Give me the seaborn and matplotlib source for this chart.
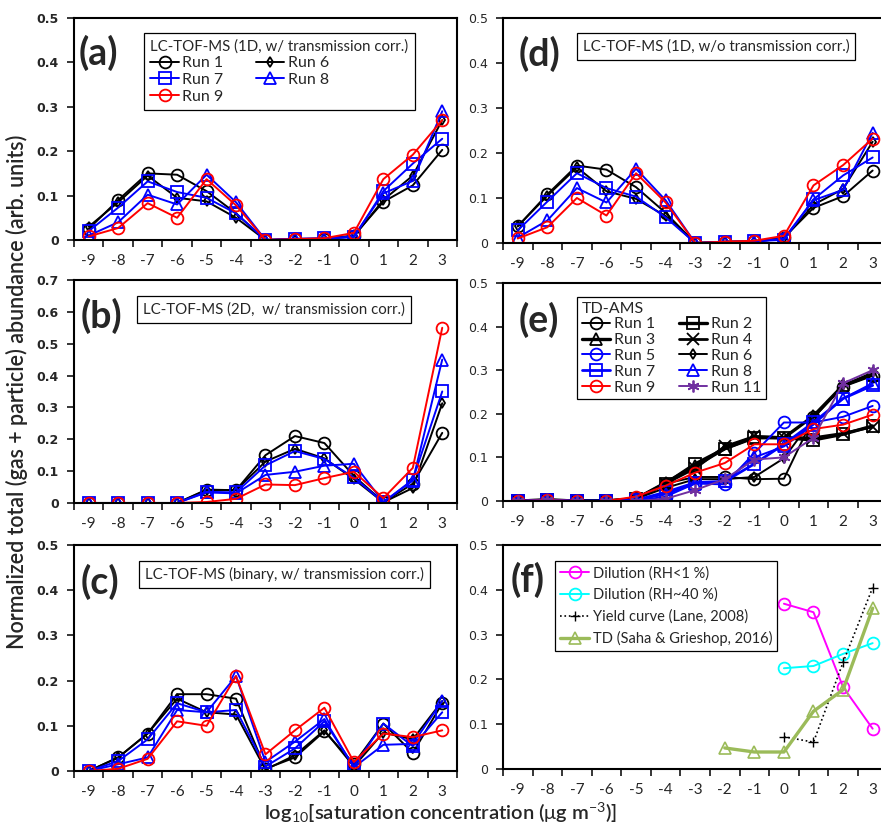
import matplotlib
matplotlib.use('Agg')
import matplotlib.pyplot as plt
import seaborn as sns
import pandas as pd

sns.set_style('ticks')
plt.rcParams['font.family'] = ['Lato', 'DejaVu Sans']
plt.rcParams['mathtext.fontset'] = 'custom'
plt.rcParams['mathtext.rm'] = 'Lato'
plt.rcParams['mathtext.it'] = 'Lato'
plt.rcParams['mathtext.bf'] = 'Lato:bold'

# log10 saturation concentration bins
logc = [-9, -8, -7, -6, -5, -4, -3, -2, -1, 0, 1, 2, 3]
xtick_labels = [str(v) for v in logc]

# (a) LC-TOF-MS 1D, with transmission correction
a_run1 = [0.025, 0.09, 0.15, 0.147, 0.11, 0.06, 0.0, 0.002, 0.003, 0.01, 0.086, 0.123, 0.203]
a_run6 = [0.03, 0.085, 0.145, 0.095, 0.087, 0.05, 0.0, 0.001, 0.002, 0.008, 0.09, 0.145, 0.27]
a_run7 = [0.02, 0.073, 0.132, 0.108, 0.095, 0.06, 0.0, 0.003, 0.004, 0.006, 0.11, 0.172, 0.228]
a_run8 = [0.01, 0.04, 0.102, 0.08, 0.147, 0.085, 0.0, 0.002, 0.003, 0.008, 0.105, 0.133, 0.29]
a_run9 = [0.008, 0.027, 0.083, 0.05, 0.137, 0.078, 0.0, 0.002, 0.004, 0.016, 0.137, 0.192, 0.27]

# (b) LC-TOF-MS 2D, with transmission correction
b_run1 = [0, 0, 0, 0, 0.04, 0.04, 0.15, 0.21, 0.188, 0.085, 0.003, 0.06, 0.22]
b_run6 = [0, 0, 0, 0, 0.042, 0.04, 0.13, 0.17, 0.14, 0.075, 0.002, 0.047, 0.313]
b_run7 = [0, 0, 0, 0, 0.035, 0.033, 0.118, 0.163, 0.138, 0.08, 0.002, 0.073, 0.35]
b_run8 = [0, 0, 0, 0, 0.033, 0.03, 0.088, 0.098, 0.117, 0.123, 0.003, 0.07, 0.45]
b_run9 = [0, 0, 0, 0, 0.003, 0.013, 0.058, 0.056, 0.078, 0.098, 0.015, 0.11, 0.55]

# (c) LC-TOF-MS binary, with transmission correction
c_run1 = [0, 0.03, 0.083, 0.17, 0.17, 0.16, 0.005, 0.03, 0.088, 0.016, 0.105, 0.04, 0.15]
c_run6 = [0, 0.03, 0.083, 0.16, 0.13, 0.125, 0.003, 0.035, 0.09, 0.01, 0.085, 0.07, 0.155]
c_run7 = [0, 0.022, 0.07, 0.15, 0.13, 0.135, 0.01, 0.05, 0.11, 0.01, 0.105, 0.055, 0.13]
c_run8 = [0, 0.015, 0.03, 0.135, 0.13, 0.21, 0.02, 0.065, 0.115, 0.008, 0.058, 0.06, 0.155]
c_run9 = [0, 0.005, 0.027, 0.11, 0.1, 0.21, 0.037, 0.09, 0.14, 0.02, 0.083, 0.075, 0.09]

# (d) LC-TOF-MS 1D, without transmission correction
d_run1 = [0.037, 0.108, 0.172, 0.163, 0.124, 0.067, 0.0, 0.003, 0.004, 0.012, 0.078, 0.104, 0.161]
d_run6 = [0.037, 0.105, 0.168, 0.115, 0.098, 0.06, 0.0, 0.002, 0.003, 0.01, 0.085, 0.12, 0.225]
d_run7 = [0.028, 0.092, 0.155, 0.122, 0.103, 0.057, 0.0, 0.003, 0.004, 0.007, 0.097, 0.15, 0.19]
d_run8 = [0.012, 0.05, 0.122, 0.09, 0.165, 0.095, 0.0, 0.002, 0.003, 0.01, 0.095, 0.118, 0.245]
d_run9 = [0.01, 0.035, 0.1, 0.061, 0.155, 0.09, 0.0, 0.003, 0.005, 0.016, 0.128, 0.173, 0.232]

# (e) TD-AMS
e_run1 = [0, 0.002, 0, 0, 0.005, 0.04, 0.055, 0.055, 0.05, 0.051, 0.192, 0.262, 0.287]
e_run2 = [0, 0.002, 0, 0, 0.005, 0.04, 0.085, 0.12, 0.145, 0.145, 0.14, 0.153, 0.172]
e_run3 = [0, 0.002, 0, 0, 0.005, 0.042, 0.08, 0.12, 0.147, 0.145, 0.195, 0.265, 0.29]
e_run4 = [0, 0.002, 0, 0, 0.005, 0.04, 0.075, 0.125, 0.148, 0.145, 0.145, 0.155, 0.17]
e_run5 = [0, 0.002, 0, 0, 0.0, 0.01, 0.04, 0.038, 0.11, 0.18, 0.18, 0.193, 0.218]
e_run6 = [0, 0.002, 0, 0, 0.005, 0.03, 0.05, 0.05, 0.055, 0.098, 0.19, 0.265, 0.295]
e_run7 = [0, 0.002, 0, 0, 0.002, 0.02, 0.042, 0.045, 0.085, 0.13, 0.18, 0.235, 0.265]
e_run8 = [0, 0.002, 0, 0, 0.002, 0.015, 0.04, 0.045, 0.1, 0.125, 0.175, 0.235, 0.27]
e_run9 = [0, 0.002, 0, 0, 0.01, 0.035, 0.065, 0.087, 0.13, 0.13, 0.165, 0.175, 0.198]
e_run11 = [0, 0.002, 0, 0, 0.0, 0.005, 0.025, 0.05, 0.095, 0.1, 0.145, 0.27, 0.3]

# (f) literature comparison
f_dil_x = [0, 1, 2, 3]
f_dil_dry = [0.369, 0.35, 0.183, 0.09]
f_dil_wet = [0.225, 0.23, 0.257, 0.281]
f_yield_x = [0, 1, 2, 3]
f_yield = [0.072, 0.06, 0.238, 0.405]
f_td_x = [-2, -1, 0, 1, 2, 3]
f_td = [0.047, 0.038, 0.038, 0.129, 0.177, 0.359]

BLACK = '#000000'
BLUE = '#0000FF'
RED = '#FF0000'
PURPLE = '#7030A0'
MAGENTA = '#FF00FF'
CYAN = '#00FFFF'
GREEN = '#9BBB59'
ASTERISK = (6, 2, 0)
LEG_FS = 10.8


def draw(ax, x, y, color, marker, label, ms=8.5, lw=1.4, ls='-', mew=1.3):
    df = pd.DataFrame({'x': x, 'y': y})
    sns.lineplot(data=df, x='x', y='y', ax=ax, color=color, marker=marker,
                 markersize=ms, markerfacecolor='none', markeredgecolor=color,
                 markeredgewidth=mew, linewidth=lw, linestyle=ls, label=label,
                 legend=False)
    return ax.lines[-1]


def style_axis(ax, ymax, left):
    ax.set_xlim(-9.5, 3.5)
    ax.set_ylim(0, ymax)
    ax.set_xticks(logc)
    ax.set_xticklabels(xtick_labels)
    ax.set_xticks([v + 0.5 for v in [-10] + logc], minor=True)
    ax.tick_params(axis='x', which='major', length=0, pad=10, labelsize=11)
    ax.tick_params(axis='x', which='minor', length=5, width=1.3, direction='out')
    yt = [round(i * 0.1, 1) for i in range(int(round(ymax * 10)) + 1)]
    ax.set_yticks(yt)
    ax.set_yticklabels([f'{v:g}' for v in yt])
    ax.tick_params(axis='y', length=5, width=1.3, direction='out', pad=6)
    for lab in ax.get_yticklabels():
        lab.set_family('DejaVu Sans')
        lab.set_fontsize(9)
        if left:
            lab.set_fontweight('bold')
    for sp in ax.spines.values():
        sp.set_visible(True)
        sp.set_color('black')
        sp.set_linewidth(1.5)
    ax.set_xlabel('')
    ax.set_ylabel('')


def panel_tag(ax, tag, x, y):
    ax.text(x, y, tag, transform=ax.transAxes, fontsize=27, fontweight='bold',
            ha='left', va='center')


def box_text(ax, text, x, y):
    ax.text(x, y, text, transform=ax.transAxes, fontsize=LEG_FS, ha='left', va='top',
            bbox=dict(boxstyle='square,pad=0.4', fc='white', ec='black', lw=0.9))


fig = plt.figure(figsize=(8.81, 8.33), dpi=100)
ax_a = fig.add_axes([0.0840, 0.7119, 0.4347, 0.2665])
ax_b = fig.add_axes([0.0840, 0.3962, 0.4347, 0.2677])
ax_c = fig.add_axes([0.0840, 0.0744, 0.4347, 0.2713])
ax_d = fig.add_axes([0.5709, 0.7083, 0.4364, 0.2701])
ax_e = fig.add_axes([0.5709, 0.3986, 0.4364, 0.2617])
ax_f = fig.add_axes([0.5709, 0.0768, 0.4364, 0.2689])

# LC-TOF-MS panels share the same five runs
lc_sets = [
    (ax_a, [a_run1, a_run6, a_run7, a_run8, a_run9]),
    (ax_b, [b_run1, b_run6, b_run7, b_run8, b_run9]),
    (ax_c, [c_run1, c_run6, c_run7, c_run8, c_run9]),
    (ax_d, [d_run1, d_run6, d_run7, d_run8, d_run9]),
]
lc_styles = [
    (BLACK, 'o', 'Run 1', 8.5),
    (BLACK, 'd', 'Run 6', 5.5),
    (BLUE, 's', 'Run 7', 8.5),
    (BLUE, '^', 'Run 8', 8.5),
    (RED, 'o', 'Run 9', 8.5),
]
lc_handles = {}
for ax, runs in lc_sets:
    hs = []
    for vals, (col, mk, lab, ms) in zip(runs, lc_styles):
        hs.append(draw(ax, logc, vals, col, mk, lab, ms=ms))
    lc_handles[ax] = hs

style_axis(ax_a, 0.5, True)
style_axis(ax_b, 0.7, True)
style_axis(ax_c, 0.5, True)
style_axis(ax_d, 0.5, False)

h = lc_handles[ax_a]
leg = ax_a.legend([h[0], h[2], h[4], h[1], h[3]],
                  ['Run 1', 'Run 7', 'Run 9', 'Run 6', 'Run 8'],
                  title='LC-TOF-MS (1D, w/ transmission corr.)', ncol=2,
                  loc='upper left', bbox_to_anchor=(0.183, 0.932), borderaxespad=0,
                  fontsize=11.5, title_fontsize=LEG_FS, frameon=True, fancybox=False,
                  edgecolor='black', framealpha=1, handlelength=1.8,
                  handletextpad=0.2, labelspacing=0.15, columnspacing=2.0,
                  borderpad=0.4)
leg._legend_box.align = 'left'
leg.get_frame().set_linewidth(0.9)

box_text(ax_b, 'LC-TOF-MS (2D,  w/ transmission corr.)', 0.18, 0.9)
box_text(ax_c, 'LC-TOF-MS (binary, w/ transmission corr.)', 0.185, 0.905)
box_text(ax_d, 'LC-TOF-MS (1D, w/o transmission corr.)', 0.207, 0.905)

# TD-AMS panel
e_series = [
    (e_run1, BLACK, 'o', 'Run 1', 8.5, 1.4),
    (e_run2, BLACK, 's', 'Run 2', 8.0, 2.4),
    (e_run3, BLACK, '^', 'Run 3', 8.5, 2.4),
    (e_run4, BLACK, 'x', 'Run 4', 8.0, 2.0),
    (e_run5, BLUE, 'o', 'Run 5', 8.5, 1.4),
    (e_run6, BLACK, 'd', 'Run 6', 5.5, 1.4),
    (e_run7, BLUE, 's', 'Run 7', 8.5, 2.0),
    (e_run8, BLUE, '^', 'Run 8', 8.5, 1.4),
    (e_run9, RED, 'o', 'Run 9', 8.5, 1.4),
    (e_run11, PURPLE, ASTERISK, 'Run 11', 8.5, 1.4),
]
e_handles = []
for vals, col, mk, lab, ms, lw in e_series:
    e_handles.append(draw(ax_e, logc, vals, col, mk, lab, ms=ms, lw=lw))
style_axis(ax_e, 0.5, False)
order = [0, 2, 4, 6, 8, 1, 3, 5, 7, 9]
leg = ax_e.legend([e_handles[i] for i in order], [e_series[i][3] for i in order],
                  title='TD-AMS', ncol=2, loc='upper left',
                  bbox_to_anchor=(0.192, 0.936), borderaxespad=0,
                  fontsize=11.5, title_fontsize=11.5, frameon=True, fancybox=False,
                  edgecolor='black', framealpha=1, handlelength=1.8,
                  handletextpad=0.2, labelspacing=0.1, columnspacing=1.5,
                  borderpad=0.3)
leg._legend_box.align = 'left'
leg.get_frame().set_linewidth(0.9)

# literature panel
hf = [
    draw(ax_f, f_dil_x, f_dil_dry, MAGENTA, 'o', 'Dilution (RH<1 %)'),
    draw(ax_f, f_dil_x, f_dil_wet, CYAN, 'o', 'Dilution (RH~40 %)'),
    draw(ax_f, f_yield_x, f_yield, BLACK, '+', 'Yield curve (Lane, 2008)',
         ms=7, lw=1.2, ls=':', mew=1.0),
    draw(ax_f, f_td_x, f_td, GREEN, '^', 'TD (Saha & Grieshop, 2016)', lw=2.4, mew=1.2),
]
style_axis(ax_f, 0.5, False)
leg = ax_f.legend(hf, [l.get_label() for l in hf], loc='upper left',
                  bbox_to_anchor=(0.135, 0.929), borderaxespad=0,
                  fontsize=10.5, frameon=True, fancybox=False, edgecolor='black',
                  framealpha=1, handlelength=2.0, handletextpad=0.25,
                  labelspacing=0.5, borderpad=0.35)
leg.get_frame().set_linewidth(0.9)

panel_tag(ax_a, '(a)', 0.012, 0.845)
panel_tag(ax_b, '(b)', 0.018, 0.84)
panel_tag(ax_c, '(c)', 0.018, 0.835)
panel_tag(ax_d, '(d)', 0.040, 0.84)
panel_tag(ax_e, '(e)', 0.040, 0.83)
panel_tag(ax_f, '(f)', 0.020, 0.845)

fig.text(0.019, 0.53, 'Normalized total (gas + particle) abundance (arb. units)',
         rotation=90, ha='center', va='center', fontsize=15.5, fontweight='semibold')
fig.text(0.5, 0.024, r'log$_{10}$[saturation concentration ($\mu$g m$^{-3}$)]',
         ha='center', va='center', fontsize=14.5, fontweight='semibold')

fig.savefig('out.png', dpi=100)
